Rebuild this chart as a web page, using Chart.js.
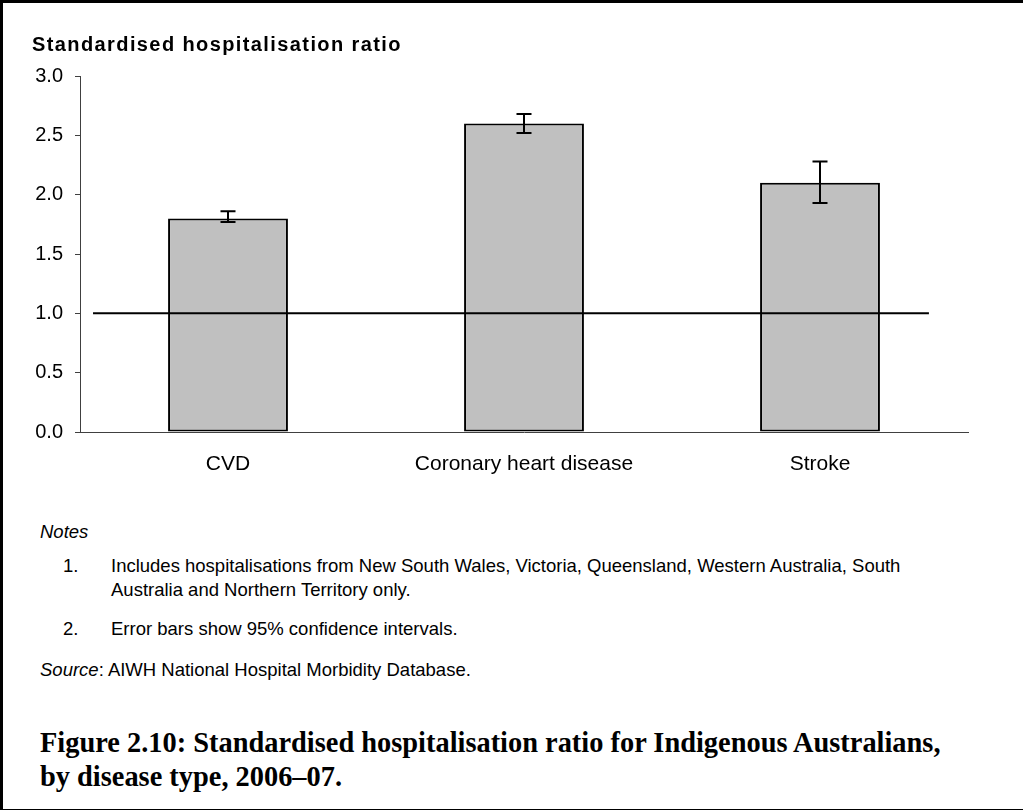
<!DOCTYPE html>
<html><head><meta charset="utf-8">
<script src="https://cdn.jsdelivr.net/npm/chart.js@4.4.0/dist/chart.umd.min.js"></script>
<style>
html,body{margin:0;padding:0;background:#fff;}
#page{position:relative;width:1023px;height:810px;overflow:hidden;background:#fff;font-family:'Liberation Sans',Arial,sans-serif;color:#000;}
#frame{position:absolute;left:0;top:0;width:1023px;height:810px;box-sizing:border-box;border-left:3px solid #000;border-top:3px solid #000;border-bottom:1px solid #000;pointer-events:none;}
canvas{position:absolute;left:0;top:0;}
.t{position:absolute;white-space:nowrap;}
.n{font-size:18.5px;line-height:24px;}
.cap{font-family:'Liberation Serif','Times New Roman',serif;font-weight:bold;font-size:28.4px;line-height:34px;}
</style></head>
<body><div id="page">
<canvas id="c" width="1023" height="500"></canvas>
<div class="t" style="left:32px;top:34px;font-weight:bold;font-size:20px;line-height:20px;letter-spacing:1.4px;">Standardised hospitalisation ratio</div>
<div class="t n" style="left:40px;top:520px;font-style:italic;">Notes</div>
<div class="t n" style="left:63px;top:554px;">1.</div>
<div class="t n" style="left:111px;top:554px;">Includes hospitalisations from New South Wales, Victoria, Queensland, Western Australia, South<br>Australia and Northern Territory only.</div>
<div class="t n" style="left:63px;top:617px;">2.</div>
<div class="t n" style="left:111px;top:617px;">Error bars show 95% confidence intervals.</div>
<div class="t n" style="left:40px;top:658px;"><i>Source</i>: AIWH National Hospital Morbidity Database.</div>
<div class="t cap" style="left:40px;top:726px;">Figure 2.10: Standardised hospitalisation ratio for Indigenous Australians,<br>by disease type, 2006–07.</div>
<div id="frame"></div>
</div>
<script>
const categories = ['CVD', 'Coronary heart disease', 'Stroke'];
const ratios = [1.8, 2.6, 2.1];
const ciLower = [1.77, 2.52, 1.93];
const ciUpper = [1.86, 2.68, 2.28];
const yTickValues = [0, 0.5, 1.0, 1.5, 2.0, 2.5, 3.0];
const referenceValue = 1.0;
const referenceSpan = [-0.456, 2.368];

const FONT = "'Liberation Sans', Arial, sans-serif";

const errorBars = {
  id: 'errorBars',
  afterDatasetsDraw(chart) {
    const meta = chart.getDatasetMeta(0);
    const y = chart.scales.y;
    const ctx = chart.ctx;
    ctx.save();
    ctx.strokeStyle = '#000';
    ctx.lineWidth = 2;
    meta.data.forEach((bar, i) => {
      const x = bar.x;
      const yl = y.getPixelForValue(ciLower[i]);
      const yu = y.getPixelForValue(ciUpper[i]);
      const half = 7.5;
      ctx.beginPath();
      ctx.moveTo(x, yu); ctx.lineTo(x, yl);
      ctx.moveTo(x - half, yu); ctx.lineTo(x + half, yu);
      ctx.moveTo(x - half, yl); ctx.lineTo(x + half, yl);
      ctx.stroke();
    });
    ctx.restore();
  }
};

new Chart(document.getElementById('c'), {
  data: {
    labels: categories,
    datasets: [
      {
        type: 'bar',
        data: ratios,
        backgroundColor: '#C0C0C0',
        borderColor: '#000',
        borderWidth: 2,
        borderSkipped: false,
        grouped: false,
        categoryPercentage: 1,
        barPercentage: 0.405,
        order: 2
      },
      {
        type: 'line',
        xAxisID: 'xRef',
        data: referenceSpan.map(v => ({x: v, y: referenceValue})),
        borderColor: '#000',
        borderWidth: 2,
        pointRadius: 0,
        fill: false,
        order: 1
      }
    ]
  },
  options: {
    responsive: false,
    animation: false,
    devicePixelRatio: 1,
    layout: {padding: {top: 76, left: 0, right: 55, bottom: 0}},
    plugins: {legend: {display: false}, tooltip: {enabled: false}, title: {display: false}},
    scales: {
      x: {
        type: 'category',
        offset: true,
        grid: {display: false, drawTicks: false},
        border: {display: true, color: '#404040', width: 1},
        ticks: {color: '#000', font: {family: FONT, size: 21}, padding: 20, maxRotation: 0},
        afterFit(s) { s.height = 68; }
      },
      xRef: {
        type: 'linear',
        display: false,
        min: -0.5,
        max: 2.5
      },
      y: {
        min: 0,
        max: 3,
        afterBuildTicks(s) { s.ticks = yTickValues.map(v => ({value: v})); },
        grid: {drawOnChartArea: false, drawTicks: true, tickLength: 5, color: '#404040'},
        border: {display: true, color: '#404040', width: 1},
        ticks: {color: '#000', font: {family: FONT, size: 20}, padding: 12, callback: v => Number(v).toFixed(1)},
        afterFit(s) { s.width = 80; }
      }
    }
  },
  plugins: [errorBars]
});
</script>
</body></html>
